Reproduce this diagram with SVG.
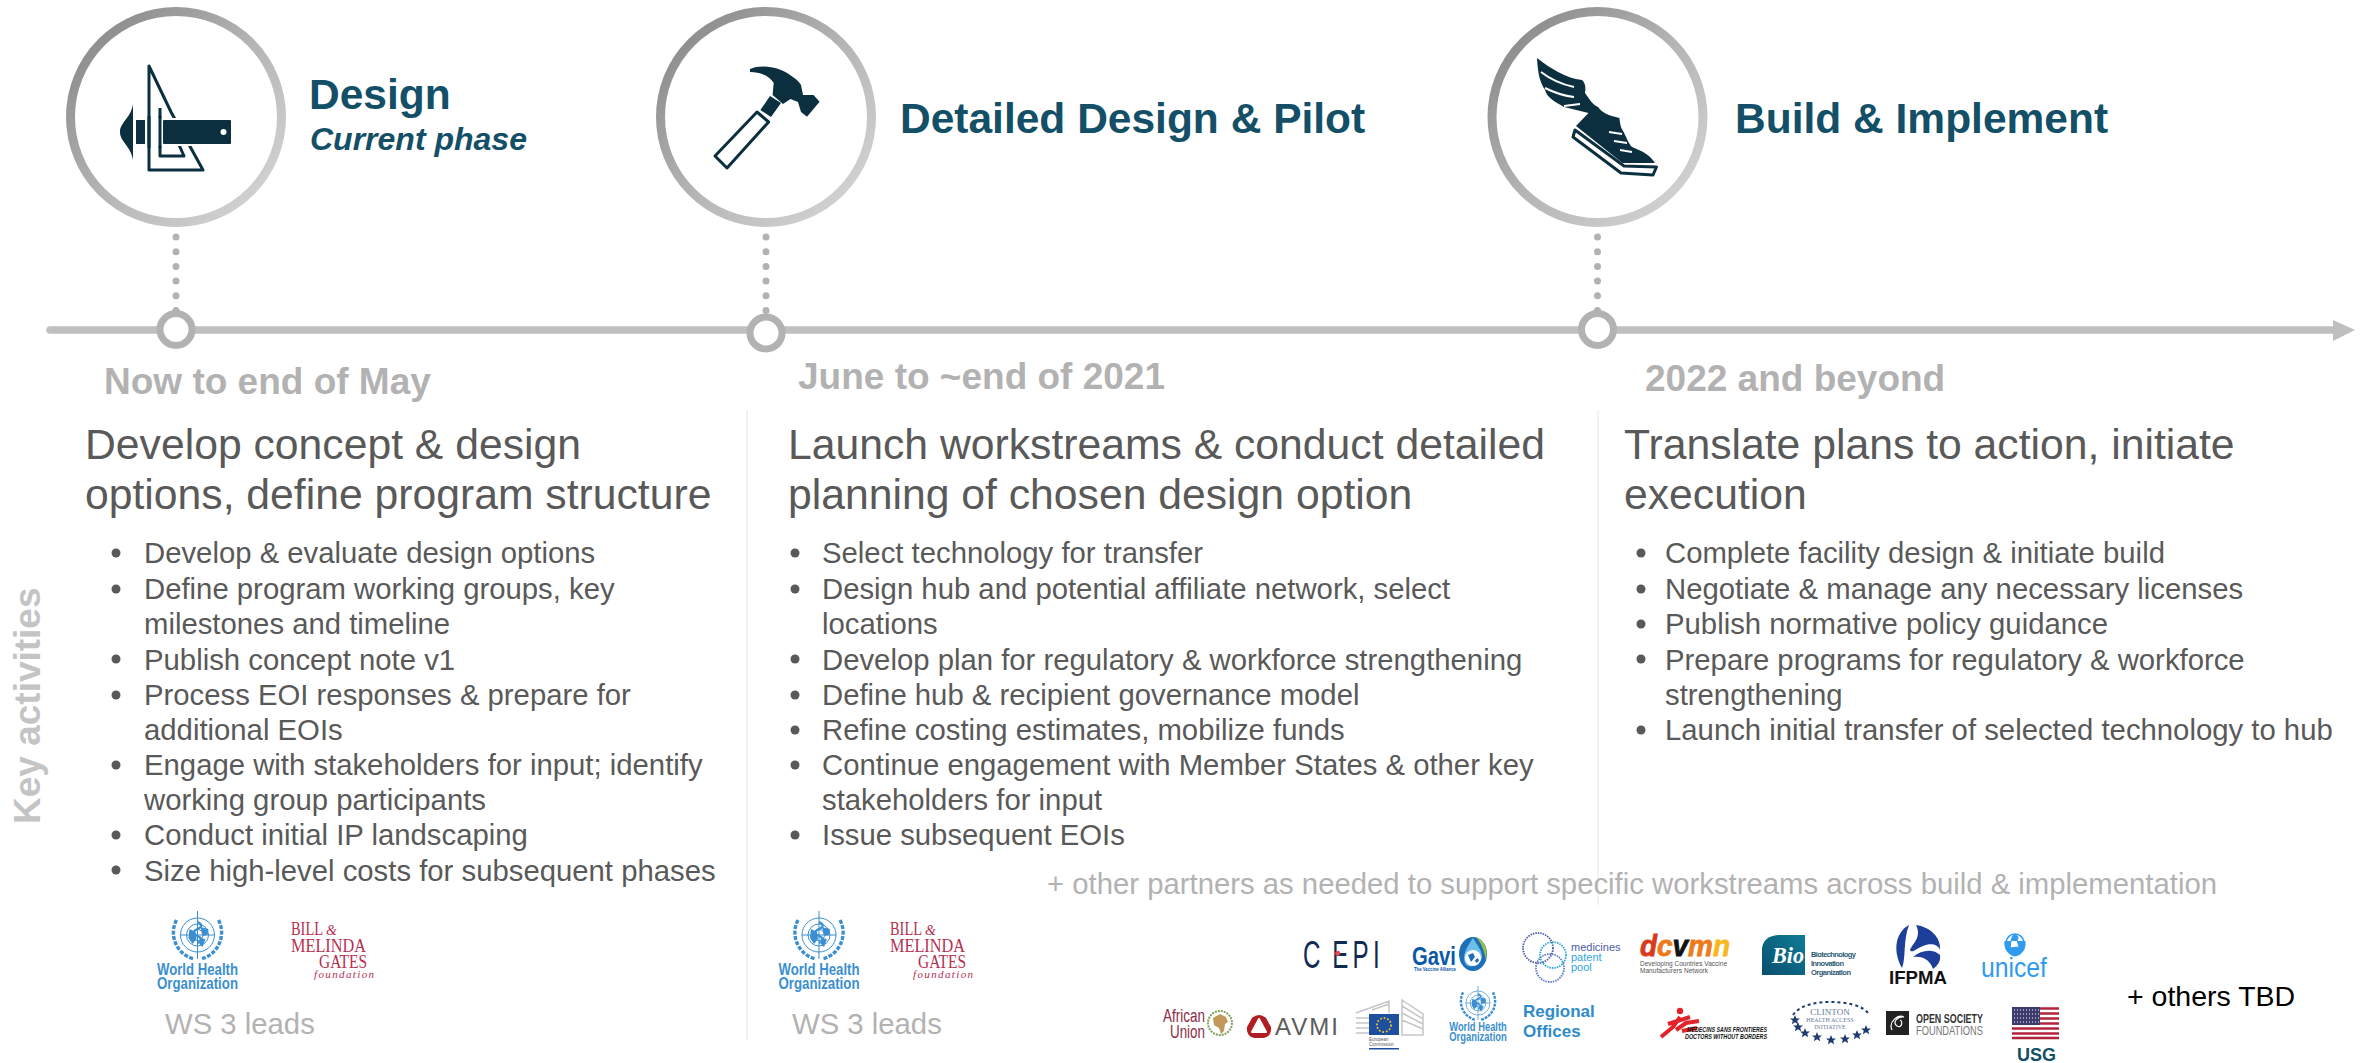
<svg xmlns="http://www.w3.org/2000/svg" xmlns:xlink="http://www.w3.org/1999/xlink" width="2369" height="1063" viewBox="0 0 2369 1063">
<style>
text{font-family:"Liberation Sans",Arial,sans-serif}
.ring{fill:#fff;stroke:url(#rg);stroke-width:9}
.node{fill:#fff;stroke:#B2B2B2;stroke-width:7}
.phase{font-size:42.5px;font-weight:700;fill:#134F66}
.date{font-size:37px;font-weight:700;fill:#B2B2B2}
.head{font-size:42.7px;fill:#595959}
.bul{font-size:29.3px;fill:#595959}
.dot{fill:#595959}
.lead{font-size:29.3px;fill:#B2B2B2}
.ic{fill:#0B2F3F}
.icl{fill:none;stroke:#0B2F3F;stroke-width:3;stroke-linejoin:round}
.who{fill:#3B8FD0;font-weight:700;text-anchor:middle}
.gt{fill:#B5304F;font-family:"Liberation Serif",serif}
.w{fill:none;stroke:#3B8FD0}
</style>
<defs>
<linearGradient id="rg" x1="0.1" y1="0.1" x2="0.9" y2="0.9"><stop offset="0" stop-color="#8C8C8C"/><stop offset="0.5" stop-color="#B4B4B4"/><stop offset="1" stop-color="#D2D2D2"/></linearGradient>
<linearGradient id="bio" x1="0" y1="1" x2="1" y2="0"><stop offset="0" stop-color="#0A4E6E"/><stop offset="1" stop-color="#0F7C97"/></linearGradient>
<g id="emblem">
<circle class="w" r="17" stroke-width="1"/><circle class="w" r="11" stroke-width="1"/><circle class="w" r="5.5" stroke-width="1"/>
<path class="w" stroke-width="1" d="M-17 0H17M0-24V24"/>
<path d="M-8-6l6 3 1 7-4 5-4-6zM3-8l8 2-1 6-5 1zM2 3l6 1-3 8-3-3z" fill="#3B8FD0"/>
<path class="w" stroke-width="2.2" d="M0-13c5 2 5 5 0 7s-5 5 0 7 5 5 0 7"/>
<path class="w" stroke-width="3.4" stroke-dasharray="4 1.5" d="M-21-15C-29 0-21 20-3 24M21-15C29 0 21 20 3 24"/>
</g>
<g id="who-logo">
<use xlink:href="#emblem"/>
<text class="who" y="40" font-size="17" textLength="81" lengthAdjust="spacingAndGlyphs">World Health</text>
<text class="who" y="54" font-size="17" textLength="81" lengthAdjust="spacingAndGlyphs">Organization</text>
</g>
<g id="gates-logo">
<text class="gt" x="0" y="0" font-size="19" textLength="32" lengthAdjust="spacingAndGlyphs">BILL</text>
<text class="gt" x="35" y="0" font-size="14" font-style="italic">&amp;</text>
<text class="gt" x="0" y="17" font-size="19" textLength="75" lengthAdjust="spacingAndGlyphs">MELINDA</text>
<text class="gt" x="28" y="33" font-size="19" textLength="48" lengthAdjust="spacingAndGlyphs">GATES</text>
<text class="gt" x="23" y="43" font-size="11" font-style="italic" textLength="60" lengthAdjust="spacing">foundation</text>
</g>
<polygon id="st" points="0,-5 1.4,-1.6 5,-1.5 2.2,0.7 3.2,4.2 0,2.2 -3.2,4.2 -2.2,0.7 -5,-1.5 -1.4,-1.6"/>
</defs>
<rect width="2369" height="1063" fill="#fff"/>

<g id="connectors">
<path d="M50 330H2335" stroke="#BFBFBF" stroke-width="7.5" stroke-linecap="round" fill="none"/>
<polygon points="2333,320 2355,330 2333,341" fill="#BFBFBF"/>
<path d="M176 237V312M766 237V316M1597.5 237V312" stroke="#B2B2B2" stroke-width="7" stroke-linecap="round" stroke-dasharray="0 14.7" fill="none"/>
<path d="M747 410V1040M1598 410V905" stroke="#EEEEEE" stroke-width="1.5" fill="none"/>
</g>

<g id="phase-design">
<circle class="ring" cx="176" cy="117" r="105.5"/>
<path class="ic" d="M133 104C131 118 120 122 120 132S131 146 133 160Z"/>
<rect class="ic" x="136" y="120" width="9" height="24"/>
<path class="icl" d="M149 66V170H203L171 112 149 66ZM160 108V156H184L171 127"/>
<rect x="154" y="118" width="80" height="28" fill="#fff"/>
<rect class="ic" x="163" y="120" width="68" height="24" rx="1"/>
<path class="icl" d="M149 116V148M160 116V148"/>
<circle cx="223.5" cy="132" r="3" fill="#fff"/>
<text class="phase" x="309" y="109">Design</text>
<text x="310" y="150" font-size="32" font-weight="700" font-style="italic" fill="#134F66">Current phase</text>
</g>
<g id="phase-pilot">
<circle class="ring" cx="766" cy="117" r="105.5"/>
<path class="ic" d="M750 69C758 65 772 66 781 70S798 80 801 85L803 95 813.5 95 819.6 101.7 807 116.7 801 112 798 102 790.5 99 783 104 772.6 95 773.7 83C770 76 760 72 750 72Z"/>
<polygon class="ic" points="770,96 781,103 771,117 760.4,110"/>
<polygon class="icl" points="757,112 768.6,122 727,168 715,156"/>
<text class="phase" x="900" y="133">Detailed Design &amp; Pilot</text>
</g>
<g id="phase-build">
<circle class="ring" cx="1597.5" cy="117" r="105.5"/>
<path class="ic" d="M1537 58C1550 68 1565 78 1582 80 1587 84 1585 93 1585 93 1590 100 1593 105 1598 107 1604 115 1612 116 1619.4 118 1620 124 1621 128 1622.5 130 1627 138 1628 143 1632 147 1638 150 1648 152 1655 163L1622.5 163 1576 126 1588.5 113 1564 107C1552 100 1547 97 1545 90 1540 82 1538 75 1537 58Z"/>
<path d="M1541 72C1550 79 1560 84 1574 87M1545 88C1555 93 1565 96 1574 97M1564 106L1580 104M1609 132L1622 134M1614 141L1627 143M1620 150L1632 152" fill="none" stroke="#fff" stroke-width="2"/>
<path class="icl" d="M1575 130L1573 137 1621 173 1653 175 1656.5 167 1624 166Z"/>
<text class="phase" x="1735" y="133">Build &amp; Implement</text>
</g>
<g id="milestone-1"><circle class="node" cx="176" cy="329.5" r="16"/><text class="date" x="104" y="394">Now to end of May</text></g>
<g id="milestone-2"><circle class="node" cx="766" cy="333" r="16"/><text class="date" x="798" y="389">June to ~end of 2021</text></g>
<g id="milestone-3"><circle class="node" cx="1597.5" cy="329.5" r="16"/><text class="date" x="1645" y="391">2022 and beyond</text></g>

<text id="key-activities" transform="translate(40 824) rotate(-90)" font-size="37" font-weight="700" fill="#C4C4C4">Key activities</text>

<g id="col-1">
<text class="head" x="85" y="459">Develop concept &amp; design</text>
<text class="head" x="85" y="509">options, define program structure</text>
<g class="dot"><circle cx="116" cy="553" r="4.5"/><circle cx="116" cy="589" r="4.5"/><circle cx="116" cy="659" r="4.5"/><circle cx="116" cy="695" r="4.5"/><circle cx="116" cy="765" r="4.5"/><circle cx="116" cy="835" r="4.5"/><circle cx="116" cy="870" r="4.5"/></g>
<text class="bul" x="144" y="563">Develop &amp; evaluate design options</text>
<text class="bul" x="144" y="599">Define program working groups, key</text>
<text class="bul" x="144" y="634">milestones and timeline</text>
<text class="bul" x="144" y="669.5">Publish concept note v1</text>
<text class="bul" x="144" y="705">Process EOI responses &amp; prepare for</text>
<text class="bul" x="144" y="740">additional EOIs</text>
<text class="bul" x="144" y="775">Engage with stakeholders for input; identify</text>
<text class="bul" x="144" y="810">working group participants</text>
<text class="bul" x="144" y="845">Conduct initial IP landscaping</text>
<text class="bul" x="144" y="881">Size high-level costs for subsequent phases</text>
</g>
<g id="col-2">
<text class="head" x="788" y="459">Launch workstreams &amp; conduct detailed</text>
<text class="head" x="788" y="509">planning of chosen design option</text>
<g class="dot"><circle cx="795" cy="553" r="4.5"/><circle cx="795" cy="589" r="4.5"/><circle cx="795" cy="659" r="4.5"/><circle cx="795" cy="695" r="4.5"/><circle cx="795" cy="730" r="4.5"/><circle cx="795" cy="765" r="4.5"/><circle cx="795" cy="835" r="4.5"/></g>
<text class="bul" x="822" y="563">Select technology for transfer</text>
<text class="bul" x="822" y="599">Design hub and potential affiliate network, select</text>
<text class="bul" x="822" y="634">locations</text>
<text class="bul" x="822" y="669.5">Develop plan for regulatory &amp; workforce strengthening</text>
<text class="bul" x="822" y="705">Define hub &amp; recipient governance model</text>
<text class="bul" x="822" y="740">Refine costing estimates, mobilize funds</text>
<text class="bul" x="822" y="775">Continue engagement with Member States &amp; other key</text>
<text class="bul" x="822" y="810">stakeholders for input</text>
<text class="bul" x="822" y="845">Issue subsequent EOIs</text>
</g>
<g id="col-3">
<text class="head" x="1624" y="459">Translate plans to action, initiate</text>
<text class="head" x="1624" y="509">execution</text>
<g class="dot"><circle cx="1641" cy="553" r="4.5"/><circle cx="1641" cy="589" r="4.5"/><circle cx="1641" cy="624" r="4.5"/><circle cx="1641" cy="659" r="4.5"/><circle cx="1641" cy="730" r="4.5"/></g>
<text class="bul" x="1665" y="563">Complete facility design &amp; initiate build</text>
<text class="bul" x="1665" y="599">Negotiate &amp; manage any necessary licenses</text>
<text class="bul" x="1665" y="634">Publish normative policy guidance</text>
<text class="bul" x="1665" y="669.5">Prepare programs for regulatory &amp; workforce</text>
<text class="bul" x="1665" y="705">strengthening</text>
<text class="bul" x="1665" y="740">Launch initial transfer of selected technology to hub</text>
</g>

<g id="leads-1">
<use xlink:href="#who-logo" x="197.5" y="935"/>
<use xlink:href="#gates-logo" x="291" y="935"/>
<text class="lead" x="165" y="1034">WS 3 leads</text>
</g>
<g id="leads-2">
<use xlink:href="#who-logo" x="819" y="935"/>
<use xlink:href="#gates-logo" x="890" y="935"/>
<text class="lead" x="792" y="1034">WS 3 leads</text>
</g>
<text id="partners-note" x="1047" y="894" font-size="29.3" fill="#B2B2B2">+ other partners as needed to support specific workstreams across build &amp; implementation</text>
<text id="others" x="2127" y="1006" font-size="28.5" fill="#000">+ others TBD</text>

<g id="logo-cepi">
<text transform="translate(1303 968) scale(.62 1)" x="0 47 80 113" font-size="39" fill="#0F2B52">CEPI</text>
<circle cx="1337.7" cy="953.3" r="2.5" fill="#E84B4B"/>
</g>
<g id="logo-gavi">
<text x="1412" y="965" font-size="26" font-weight="700" fill="#0A5AA8" textLength="44" lengthAdjust="spacingAndGlyphs">Gavi</text>
<text x="1414" y="971" font-size="5" font-weight="700" fill="#0A5AA8" textLength="42" lengthAdjust="spacingAndGlyphs">The Vaccine Alliance</text>
<ellipse cx="1473" cy="954" rx="14" ry="17" fill="#1E6FB8"/>
<path d="M1476 937C1485 941 1488 950 1486 960 1484 950 1482 944 1476 937Z" fill="#9BC53D"/>
<path d="M1473 938C1466 948 1462 956 1465 963S1481 965 1482 957C1482 950 1477 945 1473 938Z" fill="#6CC0E8"/>
<circle cx="1473" cy="958" r="8" fill="#fff"/>
<path d="M1468 955l5-2 2 4-4 5zM1475 960l3-2 1 3-3 2z" fill="#1E6FB8"/>
</g>
<g id="logo-mpp">
<g fill="none" stroke-dasharray="1.5 1" stroke-width="1.8">
<circle cx="1538" cy="948" r="15" stroke="#4B5BA8"/>
<circle cx="1553" cy="955" r="13" stroke="#2BA5DC"/>
<circle cx="1550" cy="968" r="14" stroke="#5A7BC0"/>
</g>
<text x="1571" y="951" font-size="11" fill="#4B5BA8">medicines</text>
<text x="1571" y="961" font-size="11" fill="#2BA5DC">patent</text>
<text x="1571" y="971" font-size="11" fill="#2BA5DC">pool</text>
</g>
<g id="logo-dcvmn">
<text x="1640" y="956" font-size="30" font-weight="700" font-style="italic" stroke-width="0.8" textLength="90" lengthAdjust="spacingAndGlyphs"><tspan fill="#D93A1E" stroke="#D93A1E">d</tspan><tspan fill="#EE7B1A" stroke="#EE7B1A">c</tspan><tspan fill="#111" stroke="#111">v</tspan><tspan fill="#EE7B1A" stroke="#EE7B1A">m</tspan><tspan fill="#F6B81A" stroke="#F6B81A">n</tspan></text>
<text x="1640" y="966" font-size="6.5" fill="#555" textLength="87" lengthAdjust="spacing">Developing Countries Vaccine</text>
<text x="1640" y="973" font-size="6.5" fill="#555" textLength="68" lengthAdjust="spacing">Manufacturers Network</text>
</g>
<g id="logo-bio">
<path d="M1762 948Q1764 936 1778 935H1805V975H1762Z" fill="url(#bio)"/>
<text x="1772" y="963" font-size="24" font-weight="700" font-style="italic" fill="#fff" style="font-family:'Liberation Serif',serif" textLength="32" lengthAdjust="spacingAndGlyphs">Bio</text>
<g font-size="7.5" font-weight="700" fill="#2A5A70">
<text x="1811" y="957" textLength="45" lengthAdjust="spacing">Biotechnology</text>
<text x="1811" y="966" textLength="33" lengthAdjust="spacing">Innovation</text>
<text x="1811" y="975" textLength="40" lengthAdjust="spacing">Organization</text>
</g>
</g>
<g id="logo-ifpma">
<path d="M1909 925C1896 932 1892 950 1902 968 1906 958 1903 940 1909 925Z" fill="#1E3F99"/>
<path d="M1916 925C1930 927 1941 937 1940 950 1938 944 1930 943 1923 946 1917 948 1912 954 1910 950 1913 943 1922 937 1916 925Z" fill="#1E3F99"/>
<path d="M1913 957C1922 949 1934 949 1940 955 1941 962 1937 966 1933 969 1931 962 1924 955 1913 957Z" fill="#1E3F99"/>
<text x="1889" y="984" font-size="19" font-weight="700" fill="#111" textLength="58" lengthAdjust="spacingAndGlyphs">IFPMA</text>
</g>
<g id="logo-unicef">
<circle cx="2015" cy="943" r="9" fill="none" stroke="#2F9BEF" stroke-width="1.5"/>
<path d="M2012 938a3 3 0 1 1 5 2l2 7-9 1 1-7zM2005 941C2004 950 2009 955 2015 956 2021 955 2026 950 2025 941" fill="#2F9BEF" stroke="#2F9BEF"/>
<text x="1981" y="977" font-size="27" fill="#2F9BEF" textLength="66" lengthAdjust="spacingAndGlyphs">unicef</text>
</g>
<g id="logo-au">
<g fill="#8E2B45" font-size="19"><text x="1163" y="1022" textLength="42" lengthAdjust="spacingAndGlyphs">African</text><text x="1170" y="1038" textLength="35" lengthAdjust="spacingAndGlyphs">Union</text></g>
<circle cx="1220" cy="1023" r="12" fill="none" stroke="#7FA05A" stroke-width="2" stroke-dasharray="2 1"/>
<path d="M1213 1018l7-4 6 3 2 5-3 2-1 7-3 3-2-6-5-3z" fill="#C19A5B"/>
</g>
<g id="logo-avmi">
<path d="M1252 1018Q1259 1012 1266 1018L1271 1027Q1272 1036 1264 1038H1254Q1246 1036 1247 1027Z" fill="#B01E24"/>
<path d="M1259 1019L1266 1032H1252Z" fill="#fff" stroke="#fff" stroke-width="2" stroke-linejoin="round"/>
<text x="1275" y="1035" font-size="24" fill="#5C5C5C" textLength="63" lengthAdjust="spacing">AVMI</text>
</g>
<g id="logo-ec">
<path d="M1356 1013L1389 1001V1013M1356 1018H1369M1356 1023H1369M1356 1028H1369M1356 1033H1369M1372 1010L1389 1004M1402 1000L1423 1014V1035H1402ZM1402 1006L1423 1019M1402 1013L1423 1024M1402 1020L1423 1029" fill="none" stroke="#C6C6C6" stroke-width="1.5"/>
<rect x="1369" y="1014" width="30" height="21" fill="#1E4E9E"/>
<circle cx="1384" cy="1025" r="7" fill="none" stroke="#E6C42A" stroke-width="1.8" stroke-dasharray="1.8 1.8"/>
<text x="1369" y="1041" font-size="4.5" fill="#555">European</text>
<text x="1369" y="1046" font-size="4.5" fill="#555">Commission</text>
<rect x="1369" y="1048" width="30" height="1.5" fill="#1E4E9E"/>
</g>
<g id="logo-who-regional">
<use xlink:href="#who-logo" transform="translate(1478 1003) scale(.71)"/>
<text x="1523" y="1017" font-size="17" font-weight="700" fill="#2F8BC9">Regional</text>
<text x="1523" y="1037" font-size="17" font-weight="700" fill="#2F8BC9">Offices</text>
</g>
<g id="logo-msf">
<circle cx="1680" cy="1011" r="3.2" fill="#E3222A"/>
<path d="M1661 1037L1673 1027 1680 1017M1668 1024L1690 1017M1676 1030L1686 1023 1699 1021M1682 1031L1697 1028" fill="none" stroke="#E3222A" stroke-width="4"/>
<g font-size="7.2" font-weight="700" font-style="italic" fill="#111"><text x="1687" y="1032" textLength="80" lengthAdjust="spacingAndGlyphs">MEDECINS SANS FRONTIERES</text><text x="1685" y="1039" textLength="82" lengthAdjust="spacingAndGlyphs">DOCTORS WITHOUT BORDERS</text></g>
</g>
<g id="logo-chai">
<path d="M1793 1015C1800 1005 1815 1002 1830 1002S1862 1005 1868 1013" fill="none" stroke="#1F3A6E" stroke-width="2" stroke-dasharray="3 3"/>
<g fill="#1F3A6E">
<use xlink:href="#st" x="1795" y="1020"/><use xlink:href="#st" x="1798" y="1027"/><use xlink:href="#st" x="1805" y="1033"/><use xlink:href="#st" x="1817" y="1037"/><use xlink:href="#st" x="1831" y="1040"/><use xlink:href="#st" x="1845" y="1039"/><use xlink:href="#st" x="1857" y="1035"/><use xlink:href="#st" x="1866" y="1030"/>
</g>
<g fill="#6A7A9A" text-anchor="middle">
<text x="1830" y="1015" font-size="9" style="font-family:'Liberation Serif',serif">CLINTON</text>
<text x="1830" y="1022" font-size="6" style="font-family:'Liberation Serif',serif">HEALTH ACCESS</text>
<text x="1830" y="1029" font-size="6" style="font-family:'Liberation Serif',serif">INITIATIVE</text>
</g>
</g>
<g id="logo-osf">
<rect x="1886" y="1011" width="23" height="24" fill="#222"/>
<path d="M1892 1030C1888 1022 1898 1014 1904 1017 1897 1016 1892 1023 1897 1026S1903 1021 1900 1020" fill="none" stroke="#fff" stroke-width="1.2"/>
<text x="1916" y="1023" font-size="12" font-weight="700" fill="#333" textLength="67" lengthAdjust="spacingAndGlyphs">OPEN SOCIETY</text>
<text x="1916" y="1035" font-size="12" fill="#777" textLength="67" lengthAdjust="spacingAndGlyphs">FOUNDATIONS</text>
</g>
<g id="logo-usg">
<rect x="2012" y="1007" width="47" height="32" fill="#fff"/>
<path d="M2012 1008.5H2059M2012 1013.5H2059M2012 1018.5H2059M2012 1023.5H2059M2012 1028.5H2059M2012 1033.5H2059M2012 1038H2059" stroke="#B4233C" stroke-width="2.5"/>
<rect x="2012" y="1007" width="28" height="18" fill="#3B3B6D"/>
<path d="M2014 1010H2039M2014 1014H2039M2014 1018H2039M2014 1022H2039" stroke="#fff" stroke-width="1" stroke-dasharray="1 2"/>
<text x="2017" y="1061" font-size="18" font-weight="700" fill="#134F66" textLength="39" lengthAdjust="spacingAndGlyphs">USG</text>
</g>
</svg>
